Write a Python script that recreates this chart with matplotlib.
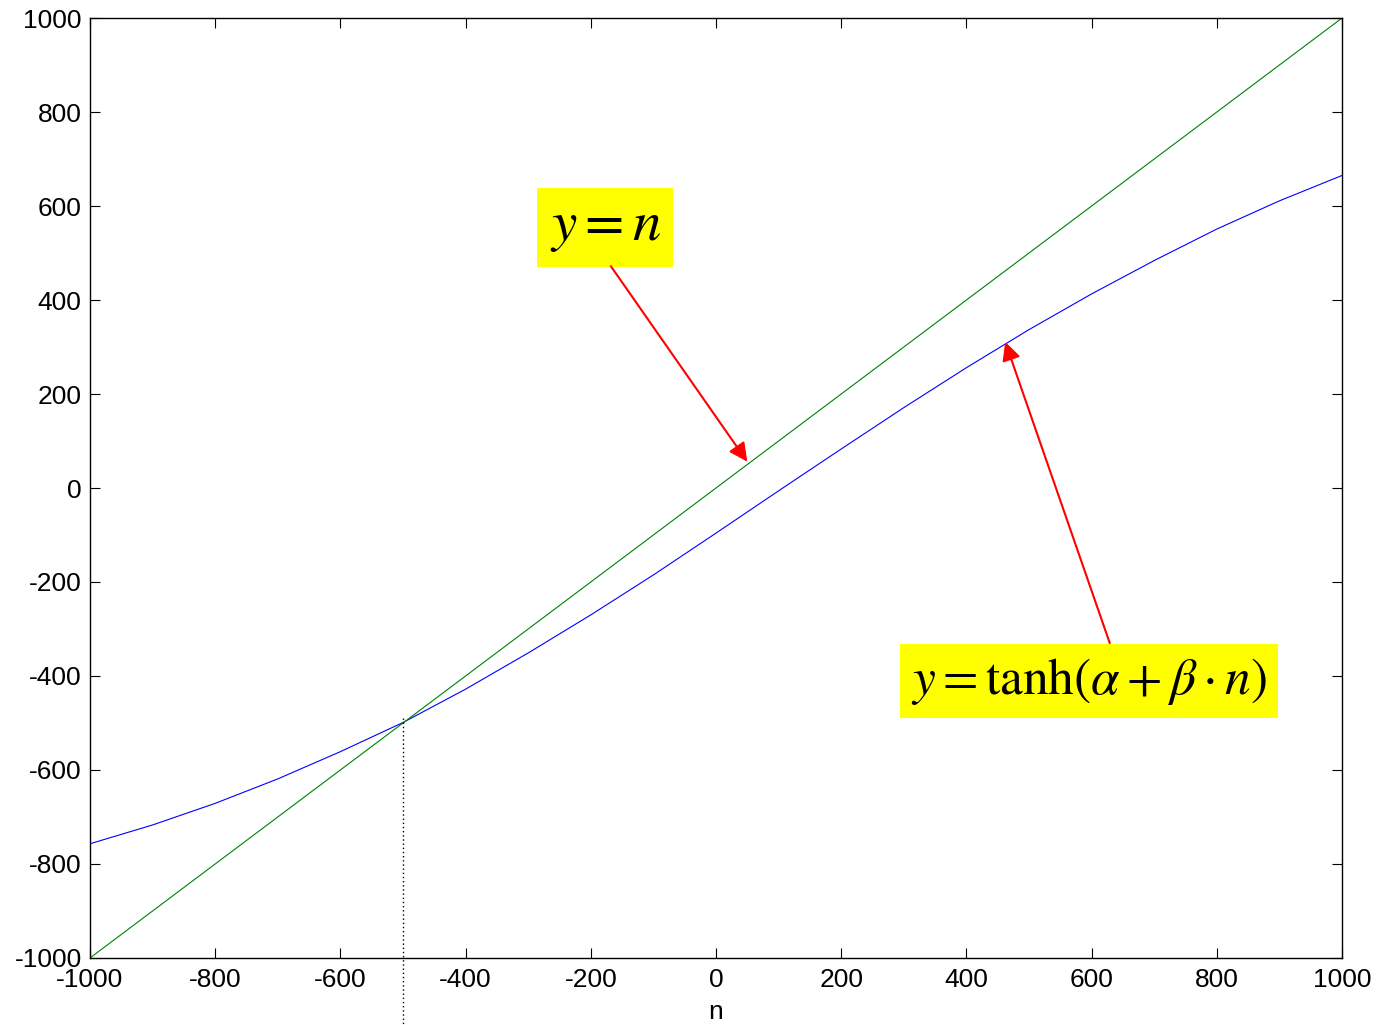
import matplotlib
matplotlib.use('Agg')
import matplotlib.pyplot as plt

plt.rcParams['font.family'] = ['Liberation Sans', 'DejaVu Sans']
plt.rcParams['axes.unicode_minus'] = False
plt.rcParams['mathtext.fontset'] = 'stix'

# sampled curve y = tanh(alpha + beta*n), scaled
n_vals = [-1000, -900, -800, -700, -600, -500, -400, -300, -200, -100, 0,
          100, 200, 300, 400, 500, 600, 700, 800, 900, 1000]
tanh_vals = [-757, -717, -671, -619, -561, -499, -428, -351, -270, -185, -96,
             -6, 83, 171, 256, 337, 413, 484, 551, 611, 665]

# identity line y = n
line_n = [-1000, 1000]
line_y = [-1000, 1000]

# crossing marker
cross_n = -500
cross_y = -489

ticks = [-1000, -800, -600, -400, -200, 0, 200, 400, 600, 800, 1000]
tick_labels = [str(t) for t in ticks]

fig = plt.figure(figsize=(13.76, 10.25), dpi=100)
ax = fig.add_axes([0.0654, 0.0654, 0.9099, 0.917])

ax.plot(n_vals, tanh_vals, color=(0, 0, 1), lw=0.8)
ax.plot(line_n, line_y, color=(0, 0.5, 0), lw=0.8)

# dotted drop line goes past the axis down to the figure edge
ax.plot([cross_n, cross_n], [cross_y, -1150], color='black', lw=1,
        linestyle=(0, (1, 2)), clip_on=False)

ax.set_xlim(-1000, 1000)
ax.set_ylim(-1000, 1000)
ax.set_xticks(ticks)
ax.set_xticklabels(tick_labels)
ax.set_yticks(ticks)
ax.set_yticklabels(tick_labels)
ax.tick_params(direction='in', length=7, width=0.8, labelsize=19,
               top=True, right=True, pad=6)
ax.tick_params(axis='x', pad=7)
ax.set_xlabel('n', fontsize=19, labelpad=6)

for spine in ['top', 'bottom', 'left', 'right']:
    ax.spines[spine].set_linewidth(1)

# labels with arrows
ax.text(-177, 555, r'$y=n$', fontsize=41, ha='center', va='center',
        bbox=dict(boxstyle='square,pad=0.22', fc='yellow', ec='none'))
ax.annotate('', xy=(50, 56), xytext=(-168, 472),
            arrowprops=dict(arrowstyle='-|>', color='red', lw=1.5,
                            mutation_scale=28, shrinkA=0, shrinkB=0))

ax.text(596, -411, r'$y=\mathrm{tanh}(\alpha+\beta\cdot n)$', fontsize=37,
        ha='center', va='center',
        bbox=dict(boxstyle='square,pad=0.22', fc='yellow', ec='none'))
ax.annotate('', xy=(462, 311), xytext=(629, -330),
            arrowprops=dict(arrowstyle='-|>', color='red', lw=1.5,
                            mutation_scale=28, shrinkA=0, shrinkB=0))

plt.savefig('out.png', dpi=100)
